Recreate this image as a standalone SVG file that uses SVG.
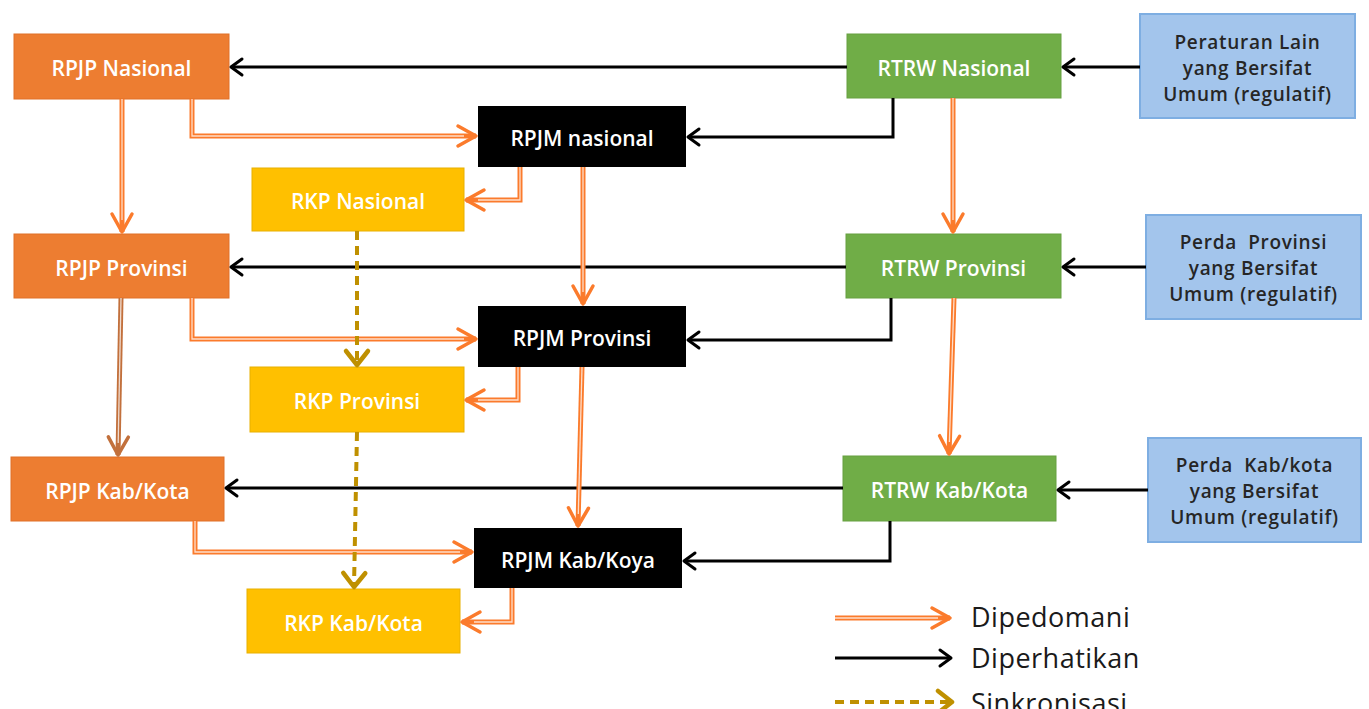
<svg xmlns="http://www.w3.org/2000/svg" width="1369" height="709" viewBox="0 0 1369 709">
<style>
.n text{font-family:"Open Sans","Liberation Sans",sans-serif;font-size:21px;font-weight:600;fill:#fff;text-anchor:middle;dominant-baseline:central;white-space:pre}
.b text{fill:#262626;font-size:19px;letter-spacing:0.7px}
.or rect{fill:#ED7D31;stroke:#E07028;stroke-width:1}
.bk rect{fill:#000}
.ye rect{fill:#FFC000;stroke:#E8B000;stroke-width:1}
.gr rect{fill:#70AD47;stroke:#66A040;stroke-width:1}
.b rect{fill:#A3C5EC;stroke:#7EAEE2;stroke-width:2}
.o{stroke:#FB7B2C;stroke-width:5;fill:none}
.br{stroke:#C2703C;stroke-width:5;fill:none}
.oi{stroke:#fff;stroke-width:1.3;fill:none;opacity:.75}
.k{stroke:#000;stroke-width:3;fill:none}
.d{stroke:#BF9000;stroke-width:4;fill:none;stroke-dasharray:9 6}
.lg{font-family:"Open Sans","Liberation Sans",sans-serif;font-size:27px;letter-spacing:0.5px;fill:#1a1a1a}
</style>
<defs>
<marker id="ao" viewBox="-24 -14 28 28" markerWidth="28" markerHeight="28" refX="0" refY="0" orient="auto" markerUnits="userSpaceOnUse" overflow="visible">
<path d="M-18,-10 L0,0 L-18,10" fill="none" stroke="#FB7B2C" stroke-width="3.5" stroke-linecap="round" stroke-linejoin="round"/>
</marker>
<marker id="ab" viewBox="-24 -14 28 28" markerWidth="28" markerHeight="28" refX="0" refY="0" orient="auto" markerUnits="userSpaceOnUse" overflow="visible">
<path d="M-18,-10 L0,0 L-18,10" fill="none" stroke="#C2703C" stroke-width="3.5" stroke-linecap="round" stroke-linejoin="round"/>
</marker>
<marker id="ak" viewBox="-16 -10 20 20" markerWidth="20" markerHeight="20" refX="0" refY="0" orient="auto" markerUnits="userSpaceOnUse" overflow="visible">
<path d="M-11,-8 L0,0 L-11,8" fill="none" stroke="#000" stroke-width="3" stroke-linecap="round" stroke-linejoin="round"/>
</marker>
<marker id="ad" viewBox="-16 -14 20 28" markerWidth="20" markerHeight="28" refX="0" refY="0" orient="auto" markerUnits="userSpaceOnUse" overflow="visible">
<path d="M-14,-11 L0,0 L-14,11" fill="none" stroke="#BF9000" stroke-width="4.5" stroke-linecap="round" stroke-linejoin="round"/>
</marker>
</defs>
<rect width="1369" height="709" fill="#fff"/>

<g id="nodes">
<g id="rpjp-nas" class="n or"><rect x="14" y="34" width="215" height="65"/><text x="121.5" y="68">RPJP Nasional</text></g>
<g id="rpjp-prov" class="n or"><rect x="14" y="234" width="215" height="64"/><text x="121.5" y="268">RPJP Provinsi</text></g>
<g id="rpjp-kab" class="n or"><rect x="11" y="457" width="213" height="64"/><text x="117.5" y="491">RPJP Kab/Kota</text></g>
<g id="rpjm-nas" class="n bk"><rect x="478" y="106" width="208" height="61"/><text x="582" y="138">RPJM nasional</text></g>
<g id="rpjm-prov" class="n bk"><rect x="478" y="306" width="208" height="61"/><text x="582" y="338">RPJM Provinsi</text></g>
<g id="rpjm-kab" class="n bk"><rect x="474" y="528" width="208" height="60"/><text x="578" y="560">RPJM Kab/Koya</text></g>
<g id="rkp-nas" class="n ye"><rect x="252" y="168" width="212" height="63"/><text x="358" y="201">RKP Nasional</text></g>
<g id="rkp-prov" class="n ye"><rect x="250" y="367" width="214" height="65"/><text x="357" y="401">RKP Provinsi</text></g>
<g id="rkp-kab" class="n ye"><rect x="247" y="589" width="213" height="64"/><text x="353.5" y="623">RKP Kab/Kota</text></g>
<g id="rtrw-nas" class="n gr"><rect x="847" y="34" width="214" height="64"/><text x="954" y="68">RTRW Nasional</text></g>
<g id="rtrw-prov" class="n gr"><rect x="846" y="234" width="215" height="64"/><text x="953.5" y="268">RTRW Provinsi</text></g>
<g id="rtrw-kab" class="n gr"><rect x="843" y="456" width="213" height="65"/><text x="949.5" y="490">RTRW Kab/Kota</text></g>
<g id="reg-nas" class="n b"><rect x="1140" y="14" width="215" height="104"/><text x="1247.5" y="42">Peraturan Lain</text><text x="1247.5" y="68">yang Bersifat</text><text x="1247.5" y="94">Umum (regulatif)</text></g>
<g id="reg-prov" class="n b"><rect x="1146" y="215" width="215" height="104"/><text x="1253.5" y="242">Perda  Provinsi</text><text x="1253.5" y="268">yang Bersifat</text><text x="1253.5" y="294">Umum (regulatif)</text></g>
<g id="reg-kab" class="n b"><rect x="1148" y="438" width="213" height="104"/><text x="1254.5" y="465">Perda  Kab/kota</text><text x="1254.5" y="491">yang Bersifat</text><text x="1254.5" y="517">Umum (regulatif)</text></g>
</g>

<g id="connectors">
<path class="k" marker-end="url(#ak)" d="M847,67 H231"/>
<path class="k" marker-end="url(#ak)" d="M1140,67 H1063"/>
<path class="k" marker-end="url(#ak)" d="M893,98 V137 H688"/>
<path class="k" marker-end="url(#ak)" d="M846,267 H231"/>
<path class="k" marker-end="url(#ak)" d="M1146,267 H1063"/>
<path class="k" marker-end="url(#ak)" d="M891,298 V340 H688"/>
<path class="k" marker-end="url(#ak)" d="M843,488 H226"/>
<path class="k" marker-end="url(#ak)" d="M1148,490 H1058"/>
<path class="k" marker-end="url(#ak)" d="M890,521 V561 H684"/>

<path class="o" marker-end="url(#ao)" d="M192,99 V136 H476"/><path class="oi" d="M192,99 V136 H464"/>
<path class="o" marker-end="url(#ao)" d="M122,99 V232"/><path class="oi" d="M122,99 V220"/>
<path class="o" marker-end="url(#ao)" d="M520,167 V200 H466"/><path class="oi" d="M520,167 V200 H478"/>
<path class="o" marker-end="url(#ao)" d="M583,167 V304"/><path class="oi" d="M583,167 V292"/>
<path class="o" marker-end="url(#ao)" d="M953,98 V232"/><path class="oi" d="M953,98 V220"/>
<path class="o" marker-end="url(#ao)" d="M192,298 V339 H476"/><path class="oi" d="M192,298 V339 H464"/>
<path class="br" marker-end="url(#ab)" d="M121,298 L118,455"/><path class="oi" d="M121,298 L118.2,443"/>
<path class="o" marker-end="url(#ao)" d="M518,367 V400 H466"/><path class="oi" d="M518,367 V400 H478"/>
<path class="o" marker-end="url(#ao)" d="M582,367 L578,526"/><path class="oi" d="M582,367 L578.3,514"/>
<path class="o" marker-end="url(#ao)" d="M954,298 L949,454"/><path class="oi" d="M954,298 L949.4,442"/>
<path class="o" marker-end="url(#ao)" d="M195,521 V552 H472"/><path class="oi" d="M195,521 V552 H460"/>
<path class="o" marker-end="url(#ao)" d="M512,588 V622 H462"/><path class="oi" d="M512,588 V622 H474"/>

<path class="d" marker-end="url(#ad)" d="M357,231 V365"/>
<path class="d" marker-end="url(#ad)" d="M357,432 L354,587"/>
</g>

<g id="legend">
<path class="o" marker-end="url(#ao)" d="M835,618 H950"/><path class="oi" d="M835,618 H938"/>
<text class="lg" x="971" y="627">Dipedomani</text>
<path class="k" marker-end="url(#ak)" d="M835,658 H951"/>
<text class="lg" x="971" y="668">Diperhatikan</text>
<path class="d" marker-end="url(#ad)" d="M835,702 H952"/>
<text class="lg" x="971" y="713">Sinkronisasi</text>
</g>
</svg>
